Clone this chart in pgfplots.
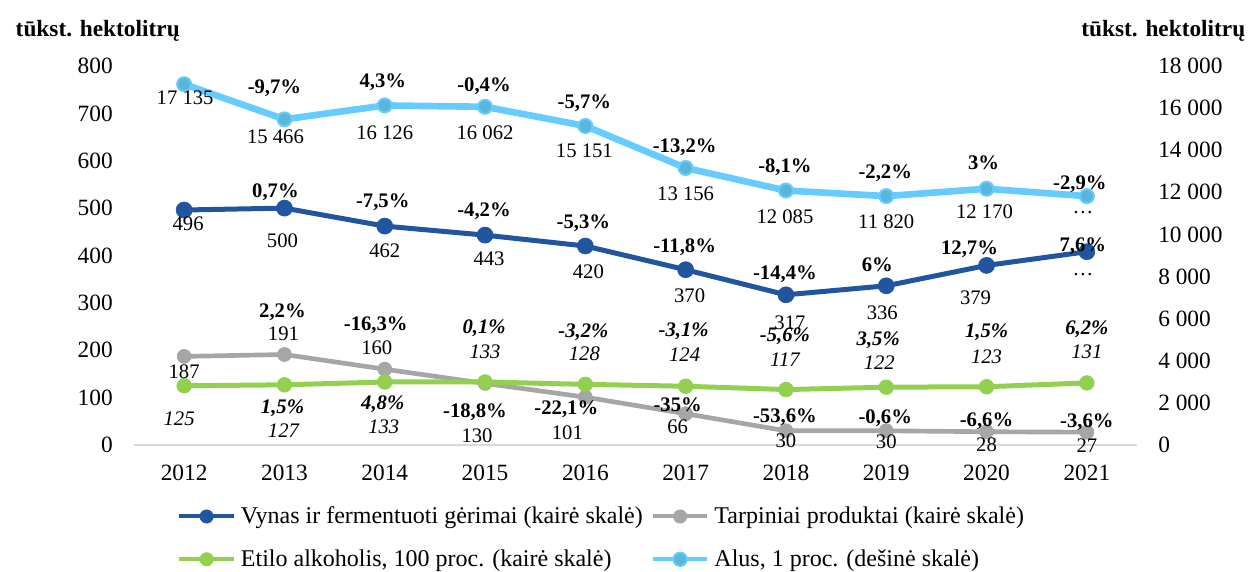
\documentclass[border=0pt]{standalone}
\usepackage{fontspec}
\setmainfont{Liberation Serif}
\usepackage{pgfplots}
\pgfplotsset{compat=1.18}
\usepackage{pgfplotstable}

\definecolor{wine}{HTML}{2155A0}
\definecolor{inter}{HTML}{A6A6A6}
\definecolor{spirit}{HTML}{92D050}
\definecolor{beer}{HTML}{66CCFF}
\definecolor{beermark}{HTML}{5AB6D8}
\definecolor{baseline}{HTML}{D9D9D9}

% values, thousand hectolitres
\pgfplotstableread[col sep=semicolon]{
x;wine;inter;spirit;beer
0;496;187;125;17135
1;500;191;127;15466
2;462;160;133;16126
3;443;130;133;16062
4;420;101;128;15151
5;370;66;124;13156
6;317;30;117;12085
7;336;30;122;11820
8;379;28;123;12170
9;408;27;131;11817
}\data

% labels: dx, dy = offset in px (dy up)
\pgfplotstableread[col sep=semicolon]{
x;y;dx;dy;lbl
0;496;4;-14;496
1;500;-9;16;\textbf{0,7\%}
1;500;-2;-33;500
2;462;-2;24;\textbf{-7,5\%}
2;462;0;-25;462
3;443;-1;24;\textbf{-4,2\%}
3;443;4;-24;443
4;420;-2;23;\textbf{-5,3\%}
4;420;3;-26;420
5;370;-1;22;\textbf{-11,8\%}
5;370;4;-26;370
6;317;-1;21;\textbf{-14,4\%}
6;317;4;-28;317
7;336;-9;21;\textbf{6\%}
7;336;-4;-27;336
8;379;-17;16;\textbf{12,7\%}
8;379;-11;-32;379
9;408;-4;5;\textbf{7,6\%}
9;408;-4;-23;…
}\winelbl

\pgfplotstableread[col sep=semicolon]{
x;y;dx;dy;lbl
0;187;0;-15;187
1;191;-2;42;\textbf{2,2\%}
1;191;-1;21;191
2;160;-9;44;\textbf{-16,3\%}
2;160;-8;21;160
3;130;-10;-29;\textbf{-18,8\%}
3;130;-8;-52;130
4;101;-19;-12;\textbf{-22,1\%}
4;101;-18;-36;101
5;66;-8;9;\textbf{-35\%}
5;66;-8;-13;66
6;30;-1;14;\textbf{-53,6\%}
6;30;0;-10;30
7;30;-1;13;\textbf{-0,6\%}
7;30;0;-11;30
8;28;0;11;\textbf{-6,6\%}
8;28;0;-13;28
9;27;0;10;\textbf{-3,6\%}
9;27;0;-13;27
}\interlbl

\pgfplotstableread[col sep=semicolon]{
x;y;dx;dy;lbl
0;125;-5;-33;125
1;127;-2;-23;\textbf{1,5\%}
1;127;-1;-46;127
2;133;-2;-22;\textbf{4,8\%}
2;133;-1;-45;133
3;133;-1;54;\textbf{0,1\%}
3;133;0;30;133
4;128;-2;52;\textbf{-3,2\%}
4;128;-1;31;128
5;124;-2;55;\textbf{-3,1\%}
5;124;-1;32;124
6;117;-1;53;\textbf{-5,6\%}
6;117;-1;30;117
7;122;-8;47;\textbf{3,5\%}
7;122;-7;25;122
8;123;0;54;\textbf{1,5\%}
8;123;0;30;123
9;131;0;54;\textbf{6,2\%}
9;131;0;31;131
}\spiritlbl

\pgfplotstableread[col sep=semicolon]{
x;y;dx;dy;lbl
0;17135;1;-14;17 135
1;15466;-10;31;\textbf{-9,7\%}
1;15466;-9;-17;15 466
2;16126;-2;23;\textbf{4,3\%}
2;16126;0;-27;16 126
3;16062;-1;21;\textbf{-0,4\%}
3;16062;0;-26;16 062
4;15151;-1;23;\textbf{-5,7\%}
4;15151;-1;-25;15 151
5;13156;-1;21;\textbf{-13,2\%}
5;13156;0;-26;13 156
6;12085;-1;23;\textbf{-8,1\%}
6;12085;-1;-26;12 085
7;11820;-1;23;\textbf{-2,2\%}
7;11820;0;-26;11 820
8;12170;-3;26;\textbf{3\%}
8;12170;-2;-23;12 170
9;11817;-7;12;\textbf{-2,9\%}
9;11817;-4;-16;…
}\beerlbl

\pgfplotsset{
  base/.style={
    scale only axis, width=752.25pt, height=284.25pt,
    xmin=-0.5, xmax=9.5, clip=false,
    major tick length=0pt,
    tick label style={font=\fontsize{17.5}{20}\selectfont},
    /pgf/number format/assume math mode=true,
    /pgf/number format/1000 sep={\ },
    scaled y ticks=false,
  },
  lbl/.style={
    draw=none, mark=none, forget plot,
    nodes near coords, point meta=explicit symbolic,
    visualization depends on={\thisrow{dx}\as\dx},
    visualization depends on={\thisrow{dy}\as\dy},
    nodes near coords style={anchor=center, inner sep=0pt, text=black,
      xshift=\dx*0.75pt, yshift=\dy*0.75pt,
      font=\fontsize{15.5}{18}\selectfont},
  },
  wineline/.style={color=wine, line width=3.75pt, mark=*, mark size=6pt,
    mark options={fill=wine, draw=wine, line width=0.5pt}},
  interline/.style={color=inter, line width=3.5pt, mark=*, mark size=5.25pt,
    mark options={fill=inter, draw=inter, line width=0.5pt}},
  spiritline/.style={color=spirit, line width=3.75pt, mark=*, mark size=5.5pt,
    mark options={fill=spirit, draw=spirit, line width=0.5pt}},
  beerline/.style={color=beer, line width=5pt, mark=*, mark size=5.25pt,
    mark options={fill=beermark, draw=beer, line width=1.5pt}},
}

\begin{document}
\begin{tikzpicture}
\begin{axis}[base,
    ymin=0, ymax=800, ytick={0,100,...,800},
    xtick={0,...,9},
    xticklabels={2012,2013,2014,2015,2016,2017,2018,2019,2020,2021},
    axis x line*=bottom, axis y line*=left,
    x axis line style={draw=baseline, line width=1.5pt, -},
    y axis line style={draw=none},
    yticklabel style={anchor=east, inner sep=0pt, xshift=-15.75pt},
    xticklabel style={anchor=center, inner sep=0pt, yshift=-21pt},
    ylabel={tūkst. hektolitrų},
    every axis y label/.style={at={(rel axis cs:-0.1226,1.079)}, anchor=base west,
      font=\bfseries\fontsize{17.5}{20}\selectfont},
  ]
  \coordinate (sw) at (rel axis cs:0,0);
  \coordinate (ne) at (rel axis cs:1,1);
  \addplot[wineline] table[x=x, y=wine] \data;
  \addplot[interline] table[x=x, y=inter] \data;
  \addplot[spiritline] table[x=x, y=spirit] \data;
  \addplot[lbl] table[x=x, y=y, meta=lbl] \winelbl;
  \addplot[lbl] table[x=x, y=y, meta=lbl] \interlbl;
  \addplot[lbl, nodes near coords style={font=\itshape\fontsize{15.5}{18}\selectfont}] table[x=x, y=y, meta=lbl] \spiritlbl;
\end{axis}
\begin{axis}[base,
    ymin=0, ymax=18000, ytick={0,2000,...,18000},
    axis x line=none, axis y line*=right,
    y axis line style={draw=none},
    yticklabel style={anchor=west, inner sep=0pt, xshift=15.75pt},
    ylabel={tūkst. hektolitrų},
    every axis y label/.style={at={(rel axis cs:1.1127,1.079)}, anchor=base east,
      font=\bfseries\fontsize{17.5}{20}\selectfont},
    legend columns=2,
    legend cell align=left,
    legend style={at={(0.0429,-0.163)}, anchor=north west, draw=none, fill=none,
      inner sep=0pt, font=\fontsize{18}{21}\selectfont, row sep=18pt,
      nodes={inner sep=0pt},
      /tikz/every odd column/.append style={column sep=3.75pt},
      /tikz/every even column/.append style={column sep=6pt}},
    legend image code/.code={
      \draw[mark repeat=2, mark phase=2, #1, line width=3pt, mark size=5pt]
        plot coordinates {(0pt,0pt) (20.5pt,0pt) (41pt,0pt)};},
  ]
  \addlegendimage{wineline}
  \addlegendentry{Vynas ir fermentuoti gėrimai (kairė skalė)}
  \addlegendimage{interline}
  \addlegendentry{Tarpiniai produktai (kairė skalė)}
  \addlegendimage{spiritline}
  \addlegendentry{Etilo alkoholis, 100 proc. (kairė skalė)}
  \addplot[beerline] table[x=x, y=beer] \data;
  \addlegendentry{Alus, 1 proc. (dešinė skalė)}
  \addplot[lbl] table[x=x, y=y, meta=lbl] \beerlbl;
\end{axis}
\pgfresetboundingbox
\path[use as bounding box] ([xshift=-100.5pt,yshift=-95.25pt]sw) rectangle ([xshift=90pt,yshift=49.5pt]ne);
\end{tikzpicture}
\end{document}
